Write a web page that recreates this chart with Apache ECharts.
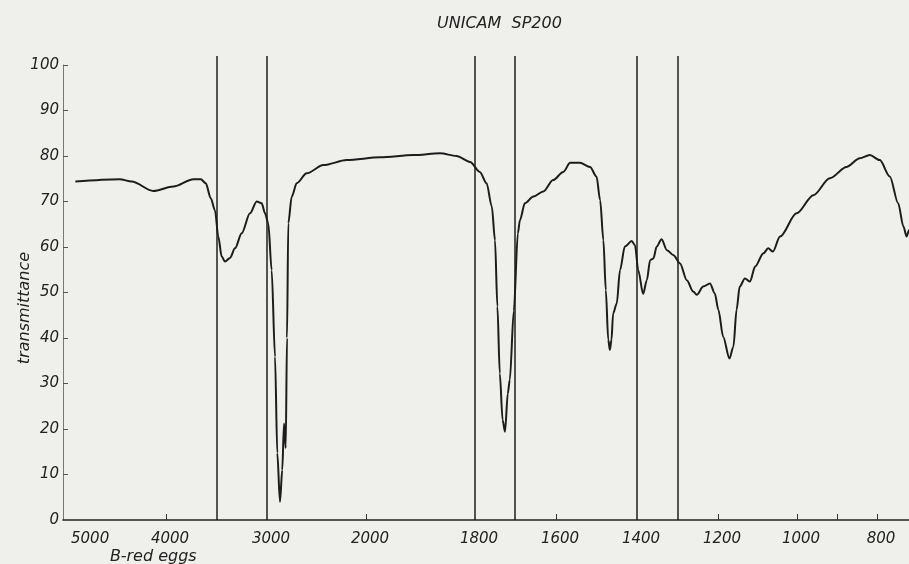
<!DOCTYPE html>
<html>
<head>
<meta charset="utf-8">
<title>UNICAM SP200</title>
<script src="https://cdn.jsdelivr.net/npm/echarts@6/dist/echarts.min.js"></script>
<style>
  html, body { margin: 0; padding: 0; background: #efefec; }
  #myChart { width: 909px; height: 564px; }
</style>
</head>
<body>
<div id="myChart"></div>
<script>
// chart paper abscissa: wavenumber (cm-1) -> chart units, the scale is not linear
const scaleWave = [5000, 4000, 3500, 3000, 2000, 1800, 1700, 1600, 1400, 1300, 1200, 1000, 900, 800, 700];
const scaleChart = [0, 103, 154, 204, 303, 412, 452, 493, 574, 615, 655, 734, 774, 814, 854];
const chartEnd = 846; // right edge of the paper (~720 cm-1)

const tickLabels = [5000, 4000, 3000, 2000, 1800, 1600, 1400, 1200, 1000, 800];
const tickMarks = [4000, 2000, 1600, 1200, 1000, 900, 800];
const gridLines = [3500, 3000, 1800, 1700, 1400, 1300];
const gridLineTop = 102;
const yTicks = [0, 10, 20, 30, 40, 50, 60, 70, 80, 90, 100];

// spectrum
const wavenumber = [
  4880, 4450, 4333, 4123, 3928, 3731, 3659, 3610, 3561, 3520,
  3487, 3453, 3420, 3370, 3320, 3253, 3170, 3103, 3053, 3020,
  2987, 2953, 2919, 2896, 2869, 2846, 2828, 2811, 2798, 2785,
  2750, 2700, 2599, 2431, 2195, 1974, 1913, 1864, 1834, 1809,
  1788, 1771, 1758, 1750, 1744, 1738, 1731, 1725, 1718, 1713,
  1703, 1693, 1688, 1676, 1655, 1631, 1607, 1582, 1565, 1541,
  1516, 1500, 1491, 1483, 1477, 1471, 1467, 1463, 1459, 1450,
  1442, 1430, 1413, 1405, 1397, 1385, 1376, 1368, 1360, 1352,
  1340, 1327, 1311, 1295, 1278, 1262, 1253, 1237, 1220, 1208,
  1199, 1187, 1171, 1161, 1153, 1145, 1132, 1119, 1106, 1085,
  1073, 1061, 1043, 1001, 959, 918, 876, 843, 818, 793,
  768, 747, 734, 726, 720, 712
];
const transmittance = [
  74.4, 74.9, 74.4, 72.3, 73.3, 74.9, 74.9, 74.0, 70.7, 68.1,
  62.3, 57.9, 56.8, 57.6, 59.7, 63.0, 67.4, 70.0, 69.6, 67.4,
  65.2, 54.9, 35.9, 14.7, 4.0, 11.0, 21.2, 15.8, 40.0, 65.2,
  71.1, 74.0, 76.2, 78.0, 79.1, 79.7, 80.2, 80.6, 80.0, 78.7,
  76.5, 74.0, 68.9, 61.5, 46.9, 32.2, 22.0, 19.4, 27.8, 30.8,
  46.0, 63.0, 65.9, 69.6, 71.1, 72.2, 74.7, 76.5, 78.5, 78.5,
  77.6, 75.5, 70.3, 61.5, 50.5, 39.6, 37.4, 39.6, 45.4, 47.6,
  54.9, 60.1, 61.3, 60.4, 54.9, 49.7, 52.7, 57.1, 57.5, 60.1,
  61.7, 59.3, 58.2, 56.4, 52.7, 50.2, 49.5, 51.3, 52.0, 49.8,
  46.2, 40.3, 35.5, 38.1, 46.2, 51.3, 53.1, 52.4, 55.7, 58.6,
  59.7, 59.0, 62.3, 67.4, 71.4, 75.1, 77.6, 79.5, 80.2, 79.1,
  75.5, 69.6, 64.5, 62.3, 63.7, 67.0
];

function toChart(w) {
  let i = 0;
  while (i < scaleWave.length - 2 && w < scaleWave[i + 1]) i++;
  const t = (scaleWave[i] - w) / (scaleWave[i] - scaleWave[i + 1]);
  return scaleChart[i] + t * (scaleChart[i + 1] - scaleChart[i]);
}

const labelPos = tickLabels.map(toChart);
const font = {
  fontFamily: "DejaVu Sans",
  fontStyle: "italic",
  fontSize: 15,
  color: "#222",
};

let seriesData = [];
seriesData.push({
  type: "line",
  data: wavenumber.map((w, i) => [toChart(w), transmittance[i]]),
  showSymbol: false,
  smooth: 0.3,
  smoothMonotone: "x",
  lineStyle: { color: "#1c1c1c", width: 2 },
  z: 3,
});
// the printed vertical rules on the chart paper
gridLines.forEach((w) => {
  seriesData.push({
    type: "line",
    data: [[toChart(w), 0], [toChart(w), gridLineTop]],
    showSymbol: false,
    clip: false,
    silent: true,
    lineStyle: { color: "#111", width: 1.4 },
    z: 2,
  });
});

let myChart = echarts.init(document.getElementById("myChart"));
let option = {
  animation: false,
  backgroundColor: "#efefec",
  title: {
    text: "UNICAM  SP200",
    left: 432,
    top: 11,
    textStyle: { ...font, fontSize: 16, fontWeight: "normal" },
  },
  grid: { left: 63, right: 0, top: 65, bottom: 44 },
  xAxis: {
    type: "value",
    min: 0,
    max: chartEnd,
    splitLine: { show: false },
    axisLine: { show: true, lineStyle: { color: "#222", width: 1.5 } },
    axisTick: {
      show: true,
      inside: true,
      length: 6,
      customValues: tickMarks.map(toChart),
      lineStyle: { color: "#333" },
    },
    axisLabel: {
      ...font,
      margin: 12,
      padding: [0, 0, 0, 8],
      customValues: labelPos,
      alignMinLabel: "left",
      formatter: function (v) {
        let idx = labelPos.findIndex((p) => Math.abs(p - v) < 0.01);
        return idx >= 0 ? String(tickLabels[idx]) : "";
      },
    },
  },
  yAxis: {
    type: "value",
    min: 0,
    max: 100,
    interval: 10,
    splitLine: { show: false },
    axisLine: { show: true, lineStyle: { color: "#777", width: 1 } },
    axisTick: {
      show: true,
      inside: true,
      length: 5,
      customValues: yTicks,
      lineStyle: { color: "#555" },
    },
    axisLabel: { ...font, margin: 4, customValues: yTicks },
  },
  graphic: [
    {
      type: "text",
      x: 25,
      y: 308,
      rotation: Math.PI / 2,
      style: {
        text: "transmittance",
        font: "italic 16px 'DejaVu Sans'",
        fill: "#222",
        align: "center",
        verticalAlign: "middle",
      },
    },
    {
      type: "text",
      x: 110,
      y: 557,
      style: {
        text: "B-red eggs",
        font: "italic 16px 'DejaVu Sans'",
        fill: "#222",
        align: "left",
        verticalAlign: "middle",
      },
    },
  ],
  series: seriesData,
};
myChart.setOption(option);
</script>
</body>
</html>
